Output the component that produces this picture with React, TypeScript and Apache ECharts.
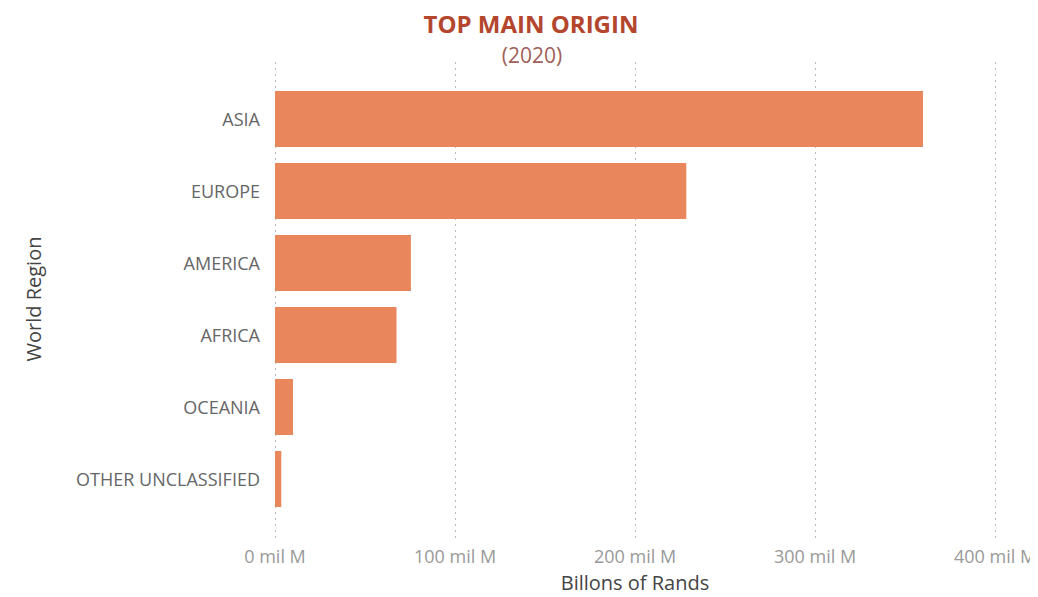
import React, { useEffect, useRef } from "react";
import * as echarts from "echarts";

const categories = ["ASIA", "EUROPE", "AMERICA", "AFRICA", "OCEANIA", "OTHER UNCLASSIFIED"];
const values = [360, 228.5, 75.5, 67.5, 10, 3.5];
const xTicks = [0, 100, 200, 300, 400];

export default function App() {
  const ref = useRef<HTMLDivElement>(null);
  useEffect(() => {
    if (!ref.current) return;
    const chart = echarts.init(ref.current, undefined, { renderer: "svg" });
    chart.setOption({
      animation: false,
      backgroundColor: "#ffffff",
      title: [
        {
          text: "TOP MAIN ORIGIN",
          left: 518,
          textAlign: "center",
          top: -2,
          textStyle: { fontFamily: "Open Sans", fontSize: 24, fontWeight: "bold", color: "#B4462E" },
        },
        {
          text: "(2020)",
          left: 519,
          textAlign: "center",
          top: 31,
          textStyle: { fontFamily: "Open Sans", fontSize: 21, fontWeight: "normal", color: "#A0605A" },
        },
      ],
      grid: [
        { left: 267, right: 43, top: 75, height: 432, containLabel: false, outerBoundsMode: "none" },
        { left: 267, right: 43, top: 54, height: 478, containLabel: false, outerBoundsMode: "none" },
      ],
      xAxis: [
        {
          type: "value",
          gridIndex: 0,
          min: 0,
          max: 400,
          interval: 100,
          name: "Billons of Rands",
          nameLocation: "middle",
          nameGap: 57,
          nameTextStyle: { fontFamily: "Open Sans", fontSize: 20, color: "#444" },
          axisLine: { show: false },
          axisTick: { show: false },
          axisLabel: {
            fontFamily: "Open Sans",
            fontSize: 18,
            color: "#999",
            margin: 32,
            formatter: (v: number) => (xTicks.includes(v) ? `${v} mil M` : ""),
          },
          splitLine: { show: false },
        },
        {
          type: "value",
          gridIndex: 1,
          min: 0,
          max: 400,
          interval: 100,
          axisLine: { show: false },
          axisTick: { show: false },
          axisLabel: { show: false },
          splitLine: { show: true, lineStyle: { type: [2, 4], color: "#bbb", width: 1 } },
        },
      ],
      yAxis: [
        {
          type: "category",
          gridIndex: 0,
          data: categories,
          inverse: true,
          name: "World Region",
          nameLocation: "middle",
          nameGap: 232,
          nameTextStyle: { fontFamily: "Open Sans", fontSize: 20, color: "#444" },
          axisLine: { show: false },
          axisTick: { show: false },
          axisLabel: { fontFamily: "Open Sans", fontSize: 18, color: "#666", margin: 15 },
        },
        {
          type: "value",
          gridIndex: 1,
          show: false,
          min: 0,
          max: 1,
        },
      ],
      series: [
        {
          type: "bar",
          xAxisIndex: 0,
          yAxisIndex: 0,
          data: values,
          barWidth: 56,
          itemStyle: { color: "#E9865C" },
        },
      ],
    });
    return () => chart.dispose();
  }, []);
  return <div ref={ref} style={{ width: 1030, height: 589 }} />;
}
